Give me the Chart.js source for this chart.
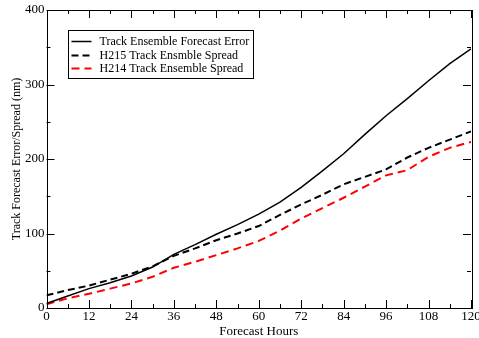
<!DOCTYPE html>
<html>
<head>
<meta charset="utf-8">
<script src="https://cdn.jsdelivr.net/npm/chart.js@4"></script>
<style>
  html, body { margin: 0; padding: 0; background: #fff; }
  #wrap { width: 479px; height: 338px; }
</style>
</head>
<body>
<div id="wrap"><canvas id="myChart"></canvas></div>
<script>
// forecast hours (x) and the three curves
var hours = [0, 6, 12, 18, 24, 30, 36, 42, 48, 54, 60, 66, 72, 78, 84, 90, 96, 102, 108, 114, 120];
var trackError = [6, 16, 26, 34, 43, 55, 72, 85, 99, 112, 126, 142, 162, 184, 207, 233, 258, 281, 305, 328, 348];
var h215Spread = [17, 24, 30, 38, 46, 56, 70, 80, 91, 100, 110, 125, 139, 152, 166, 176, 186, 202, 215, 226, 237];
var h214Spread = [5, 13, 19, 26, 33, 42, 54, 62, 71, 80, 90, 104, 120, 134, 148, 163, 178, 185, 203, 215, 223];

var xTicks = [0, 12, 24, 36, 48, 60, 72, 84, 96, 108, 120];
var yTicks = [0, 100, 200, 300, 400];

var serif = "'Liberation Serif', 'DejaVu Serif', serif";

function pts(vals) {
  return hours.map(function (h, i) { return {x: h, y: vals[i]}; });
}

// ticks pointing inwards on all four sides, major + minor, and the frame
var frameTicks = {
  id: 'frameTicks',
  afterDatasetsDraw: function (chart) {
    var ctx = chart.ctx, a = chart.chartArea, x = chart.scales.x, y = chart.scales.y;
    ctx.save();
    ctx.strokeStyle = '#000';
    ctx.lineWidth = 1;
    ctx.beginPath();
    xTicks.forEach(function (t, i) {
      var p = Math.round(x.getPixelForValue(t)) + 0.5;
      ctx.moveTo(p, a.bottom); ctx.lineTo(p, a.bottom - 8);
      ctx.moveTo(p, a.top); ctx.lineTo(p, a.top + 8);
      if (i < xTicks.length - 1) {
        var m = Math.round(x.getPixelForValue((t + xTicks[i + 1]) / 2)) + 0.5;
        ctx.moveTo(m, a.bottom); ctx.lineTo(m, a.bottom - 4);
        ctx.moveTo(m, a.top); ctx.lineTo(m, a.top + 4);
      }
    });
    yTicks.forEach(function (t, i) {
      var p = Math.round(y.getPixelForValue(t)) + 0.5;
      ctx.moveTo(a.left, p); ctx.lineTo(a.left + 8, p);
      ctx.moveTo(a.right, p); ctx.lineTo(a.right - 8, p);
      if (i < yTicks.length - 1) {
        var m = Math.round(y.getPixelForValue((t + yTicks[i + 1]) / 2)) + 0.5;
        ctx.moveTo(a.left, m); ctx.lineTo(a.left + 4, m);
        ctx.moveTo(a.right, m); ctx.lineTo(a.right - 4, m);
      }
    });
    ctx.stroke();
    ctx.strokeRect(Math.round(a.left) + 0.5, Math.round(a.top) + 0.5,
                   Math.round(a.right - a.left), Math.round(a.bottom - a.top));
    ctx.restore();
  }
};

// boxed legend in the upper left of the plot
var boxLegend = {
  id: 'boxLegend',
  afterDatasetsDraw: function (chart) {
    var ctx = chart.ctx, a = chart.chartArea;
    var bx = a.left + 21, by = a.top + 20, bw = 185, bh = 48;
    ctx.save();
    ctx.fillStyle = '#fff';
    ctx.fillRect(bx, by, bw, bh);
    ctx.strokeStyle = '#000';
    ctx.lineWidth = 1;
    ctx.strokeRect(Math.round(bx) + 0.5, Math.round(by) + 0.5, bw, bh);
    ctx.font = '12px ' + serif;
    ctx.textBaseline = 'middle';
    chart.data.datasets.forEach(function (ds, i) {
      var ly = Math.round(by + 11 + i * 13.5) + 0.5;
      ctx.strokeStyle = ds.borderColor;
      ctx.lineWidth = ds.borderWidth;
      ctx.setLineDash(ds.borderDash || []);
      ctx.beginPath();
      ctx.moveTo(bx + 4, ly); ctx.lineTo(bx + 24, ly);
      ctx.stroke();
      ctx.setLineDash([]);
      ctx.fillStyle = '#000';
      ctx.fillText(ds.label, bx + 32, ly);
    });
    ctx.restore();
  }
};

var ctx = document.getElementById('myChart').getContext('2d');
var myChart = new Chart(ctx, {
  type: 'scatter',
  data: {
    datasets: [{
      label: 'Track Ensemble Forecast Error',
      data: pts(trackError),
      borderColor: '#000',
      borderWidth: 1.5,
      showLine: true
    }, {
      label: 'H215 Track Ensmble Spread',
      data: pts(h215Spread),
      borderColor: '#000',
      borderWidth: 2,
      borderDash: [7, 4],
      showLine: true
    }, {
      label: 'H214 Track Ensemble Spread',
      data: pts(h214Spread),
      borderColor: '#ff0000',
      borderWidth: 2,
      borderDash: [8, 5],
      showLine: true
    }]
  },
  options: {
    responsive: true,
    maintainAspectRatio: false,
    animation: false,
    elements: { point: { radius: 0, hoverRadius: 0 }, line: { tension: 0 } },
    layout: { padding: { top: 10, right: 0, left: 11, bottom: 0 } },
    plugins: {
      legend: { display: false },
      tooltip: { enabled: false }
    },
    scales: {
      x: {
        type: 'linear',
        min: 0, max: 120,
        grid: { display: false, drawTicks: false },
        border: { display: false },
        afterBuildTicks: function (s) { s.ticks = xTicks.map(function (v) { return {value: v}; }); },
        afterFit: function (s) { s.paddingRight = 8; s.paddingLeft = 0; },
        ticks: { color: '#000', padding: 2, maxRotation: 0, font: { family: serif, size: 13, lineHeight: 1 } },
        title: { display: true, text: 'Forecast Hours', color: '#000', padding: { top: 0, bottom: 0 }, font: { family: serif, size: 13, lineHeight: 1 } }
      },
      y: {
        min: 0, max: 400,
        grid: { display: false, drawTicks: false },
        border: { display: false },
        afterBuildTicks: function (s) { s.ticks = yTicks.map(function (v) { return {value: v}; }); },
        ticks: { color: '#000', padding: 2, font: { family: serif, size: 13, lineHeight: 1 } },
        title: { display: true, text: 'Track Forecast Error/Spread (nm)', color: '#000', padding: { top: 0, bottom: 0 }, font: { family: serif, size: 12, lineHeight: 1 } }
      }
    }
  },
  plugins: [frameTicks, boxLegend]
});
</script>
</body>
</html>
